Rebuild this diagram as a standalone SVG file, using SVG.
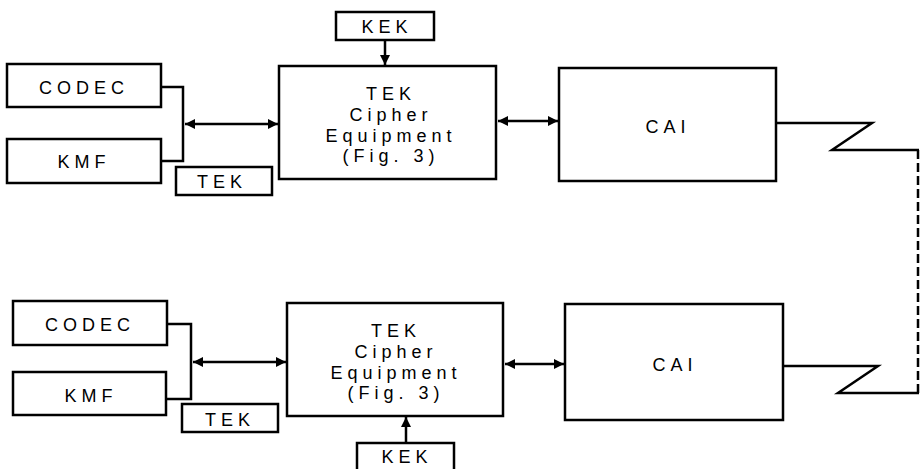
<svg xmlns="http://www.w3.org/2000/svg" width="921" height="469" viewBox="0 0 921 469">
<defs>
<style>
.box{fill:#fff;stroke:#000;stroke-width:2.5}
.ln{fill:none;stroke:#000;stroke-width:2.5}
.t{font-family:"Liberation Sans",Arial,sans-serif;font-size:18px;fill:#000;text-anchor:middle;letter-spacing:5px}
</style>
<marker id="ah" viewBox="0 0 10 10" refX="10" refY="5" markerWidth="4" markerHeight="4" orient="auto-start-reverse" markerUnits="strokeWidth">
<path d="M0,0 L10,5 L0,10 z" fill="#000"/>
</marker>
</defs>
<g id="connectors">
<polyline class="ln" points="161,87 183,87 183,161 161,161"/>
<line class="ln" x1="185" y1="124" x2="278" y2="124" stroke-width="2" marker-start="url(#ah)" marker-end="url(#ah)"/>
<line class="ln" x1="385" y1="40" x2="385" y2="65" marker-end="url(#ah)"/>
<line class="ln" x1="498" y1="121" x2="558" y2="121" stroke-width="2" marker-start="url(#ah)" marker-end="url(#ah)"/>
<polyline class="ln" points="776,123 872,123 832,150 919,150"/>
<line class="ln" x1="918" y1="150" x2="918" y2="393" stroke-width="3" stroke-dasharray="9,4"/>
<polyline class="ln" points="783,366 878,366 838,393 919,393"/>
<polyline class="ln" points="167,324 191,324 191,399 166,399"/>
<line class="ln" x1="193" y1="362" x2="286" y2="362" stroke-width="2" marker-start="url(#ah)" marker-end="url(#ah)"/>
<line class="ln" x1="505" y1="364" x2="564" y2="364" stroke-width="2" marker-start="url(#ah)" marker-end="url(#ah)"/>
<line class="ln" x1="406" y1="442" x2="406" y2="417" marker-end="url(#ah)"/>
</g>
<g id="codec1"><rect class="box" x="7" y="64" width="154" height="43"/><text class="t" x="84" y="94">CODEC</text></g>
<g id="kmf1"><rect class="box" x="7" y="139" width="154" height="44"/><text class="t" x="84" y="168">KMF</text></g>
<g id="tek1"><rect class="box" x="176" y="167" width="96" height="28"/><text class="t" x="222" y="188">TEK</text></g>
<g id="kek1"><rect class="box" x="336" y="12" width="98" height="28"/><text class="t" x="387" y="33">KEK</text></g>
<g id="cipher1"><rect class="box" x="279" y="66" width="217" height="113"/>
<text class="t" x="391" y="100">TEK</text><text class="t" x="391" y="121">Cipher</text><text class="t" x="391" y="142">Equipment</text><text class="t" x="391" y="162">(Fig. 3)</text></g>
<g id="cai1"><rect class="box" x="559" y="68" width="217" height="113"/><text class="t" x="668" y="133">CAI</text></g>
<g id="codec2"><rect class="box" x="13" y="301" width="154" height="44"/><text class="t" x="90" y="331">CODEC</text></g>
<g id="kmf2"><rect class="box" x="13" y="372" width="153" height="43"/><text class="t" x="91" y="402">KMF</text></g>
<g id="tek2"><rect class="box" x="182" y="404" width="96" height="28"/><text class="t" x="230" y="426">TEK</text></g>
<g id="kek2"><rect class="box" x="357" y="443" width="97" height="30"/><text class="t" x="407" y="463">KEK</text></g>
<g id="cipher2"><rect class="box" x="287" y="303" width="216" height="113"/>
<text class="t" x="396" y="337">TEK</text><text class="t" x="396" y="358">Cipher</text><text class="t" x="396" y="379">Equipment</text><text class="t" x="396" y="399">(Fig. 3)</text></g>
<g id="cai2"><rect class="box" x="565" y="304" width="218" height="116"/><text class="t" x="675" y="371">CAI</text></g>
</svg>
